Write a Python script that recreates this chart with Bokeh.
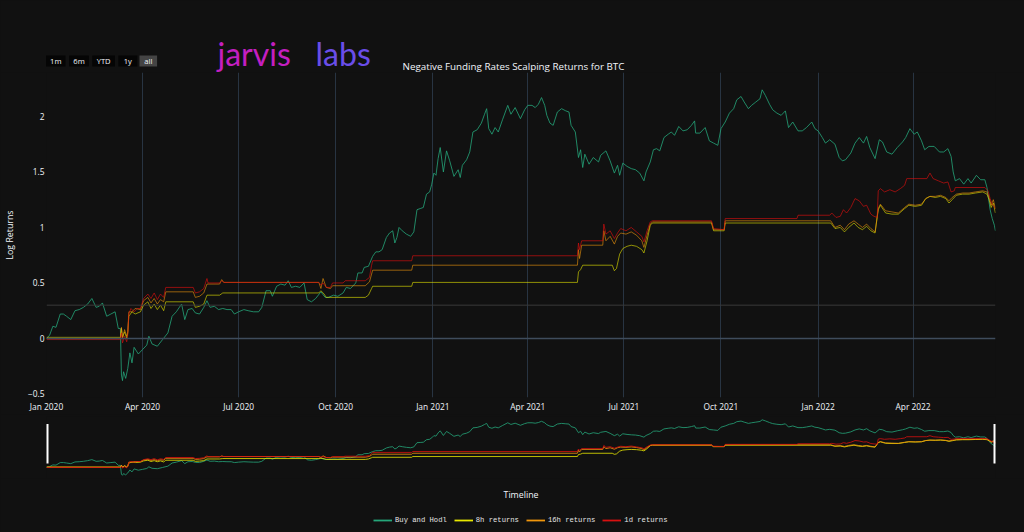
import pandas as pd
from bokeh.plotting import figure
from bokeh.models import Range1d, FixedTicker, Span, Legend, LegendItem
from bokeh.core.properties import value
from bokeh.layouts import column
from bokeh.embed import file_html
from bokeh.resources import INLINE

# ---------------- data (log returns) ----------------
hodl_points = [
    ("2020-01-01", 0.00), ("2020-01-04", 0.03), ("2020-01-07", 0.11), ("2020-01-10", 0.10),
    ("2020-01-14", 0.22), ("2020-01-17", 0.22), ("2020-01-20", 0.20), ("2020-01-24", 0.17),
    ("2020-01-28", 0.25), ("2020-02-01", 0.26), ("2020-02-05", 0.28), ("2020-02-09", 0.31),
    ("2020-02-13", 0.36), ("2020-02-17", 0.28), ("2020-02-20", 0.29), ("2020-02-23", 0.32),
    ("2020-02-27", 0.20), ("2020-03-02", 0.22), ("2020-03-06", 0.24), ("2020-03-09", 0.09),
    ("2020-03-11", 0.09), ("2020-03-12", -0.33), ("2020-03-13", -0.38), ("2020-03-14", -0.30),
    ("2020-03-16", -0.36), ("2020-03-18", -0.27), ("2020-03-20", -0.13), ("2020-03-22", -0.22),
    ("2020-03-24", -0.08), ("2020-03-28", -0.14), ("2020-04-01", -0.10), ("2020-04-05", -0.06),
    ("2020-04-07", 0.02), ("2020-04-10", -0.05), ("2020-04-15", -0.07), ("2020-04-20", -0.01),
    ("2020-04-25", 0.05), ("2020-04-29", 0.20), ("2020-05-03", 0.24), ("2020-05-08", 0.31),
    ("2020-05-11", 0.17), ("2020-05-14", 0.26), ("2020-05-18", 0.27), ("2020-05-21", 0.23),
    ("2020-05-25", 0.22), ("2020-05-29", 0.28), ("2020-06-01", 0.34), ("2020-06-04", 0.28),
    ("2020-06-08", 0.29), ("2020-06-12", 0.26), ("2020-06-16", 0.27), ("2020-06-20", 0.26),
    ("2020-06-24", 0.26), ("2020-06-27", 0.22), ("2020-07-01", 0.24), ("2020-07-06", 0.26),
    ("2020-07-10", 0.25), ("2020-07-15", 0.24), ("2020-07-20", 0.24), ("2020-07-23", 0.28),
    ("2020-07-27", 0.43), ("2020-07-31", 0.43), ("2020-08-02", 0.38), ("2020-08-06", 0.47),
    ("2020-08-10", 0.49), ("2020-08-14", 0.48), ("2020-08-17", 0.52), ("2020-08-20", 0.46),
    ("2020-08-24", 0.47), ("2020-08-28", 0.46), ("2020-09-01", 0.50), ("2020-09-04", 0.35),
    ("2020-09-08", 0.33), ("2020-09-12", 0.36), ("2020-09-17", 0.42), ("2020-09-21", 0.37),
    ("2020-09-24", 0.37), ("2020-09-29", 0.39), ("2020-10-03", 0.38), ("2020-10-08", 0.41),
    ("2020-10-11", 0.46), ("2020-10-15", 0.45), ("2020-10-20", 0.50), ("2020-10-22", 0.59),
    ("2020-10-26", 0.59), ("2020-10-28", 0.64), ("2020-11-01", 0.65), ("2020-11-05", 0.74),
    ("2020-11-08", 0.78), ("2020-11-11", 0.78), ("2020-11-14", 0.80), ("2020-11-18", 0.91),
    ("2020-11-21", 0.95), ("2020-11-24", 0.97), ("2020-11-26", 0.86), ("2020-11-28", 0.91),
    ("2020-11-30", 1.00), ("2020-12-03", 0.97), ("2020-12-07", 0.94), ("2020-12-11", 0.92),
    ("2020-12-14", 0.96), ("2020-12-17", 1.16), ("2020-12-20", 1.17), ("2020-12-23", 1.18),
    ("2020-12-26", 1.30), ("2020-12-29", 1.32), ("2020-12-31", 1.39), ("2021-01-02", 1.49),
    ("2021-01-04", 1.47), ("2021-01-06", 1.62), ("2021-01-08", 1.72), ("2021-01-11", 1.50),
    ("2021-01-14", 1.69), ("2021-01-17", 1.60), ("2021-01-21", 1.46), ("2021-01-25", 1.52),
    ("2021-01-27", 1.45), ("2021-01-29", 1.56), ("2021-02-02", 1.61), ("2021-02-05", 1.68),
    ("2021-02-08", 1.86), ("2021-02-12", 1.88), ("2021-02-16", 1.94), ("2021-02-19", 2.02),
    ("2021-02-21", 2.07), ("2021-02-23", 1.89), ("2021-02-26", 1.84), ("2021-03-01", 1.90),
    ("2021-03-04", 1.86), ("2021-03-08", 1.97), ("2021-03-13", 2.10), ("2021-03-16", 2.02),
    ("2021-03-20", 2.08), ("2021-03-25", 1.98), ("2021-03-29", 2.06), ("2021-04-01", 2.10),
    ("2021-04-05", 2.10), ("2021-04-08", 2.08), ("2021-04-11", 2.11), ("2021-04-14", 2.17),
    ("2021-04-17", 2.10), ("2021-04-19", 2.01), ("2021-04-22", 1.94), ("2021-04-25", 1.92),
    ("2021-04-29", 2.04), ("2021-05-03", 2.07), ("2021-05-07", 2.05), ("2021-05-10", 2.04),
    ("2021-05-12", 1.92), ("2021-05-16", 1.86), ("2021-05-19", 1.63), ("2021-05-21", 1.70),
    ("2021-05-23", 1.54), ("2021-05-25", 1.66), ("2021-05-29", 1.57), ("2021-06-02", 1.63),
    ("2021-06-07", 1.59), ("2021-06-09", 1.65), ("2021-06-14", 1.69), ("2021-06-18", 1.60),
    ("2021-06-22", 1.49), ("2021-06-25", 1.56), ("2021-06-27", 1.47), ("2021-06-30", 1.58),
    ("2021-07-04", 1.55), ("2021-07-08", 1.53), ("2021-07-12", 1.52), ("2021-07-16", 1.49),
    ("2021-07-20", 1.42), ("2021-07-22", 1.50), ("2021-07-26", 1.59), ("2021-07-29", 1.70),
    ("2021-08-01", 1.71), ("2021-08-04", 1.69), ("2021-08-08", 1.81), ("2021-08-12", 1.84),
    ("2021-08-15", 1.86), ("2021-08-18", 1.83), ("2021-08-22", 1.91), ("2021-08-26", 1.87),
    ("2021-08-30", 1.88), ("2021-09-03", 1.92), ("2021-09-06", 1.96), ("2021-09-07", 1.85),
    ("2021-09-11", 1.85), ("2021-09-16", 1.90), ("2021-09-20", 1.78), ("2021-09-24", 1.76),
    ("2021-09-28", 1.74), ("2021-10-01", 1.89), ("2021-10-05", 1.95), ("2021-10-09", 2.03),
    ("2021-10-13", 2.07), ("2021-10-16", 2.15), ("2021-10-20", 2.18), ("2021-10-23", 2.13),
    ("2021-10-27", 2.07), ("2021-10-30", 2.10), ("2021-11-03", 2.13), ("2021-11-07", 2.16),
    ("2021-11-09", 2.24), ("2021-11-12", 2.19), ("2021-11-16", 2.11), ("2021-11-19", 2.06),
    ("2021-11-23", 2.03), ("2021-11-27", 2.01), ("2021-12-01", 2.05), ("2021-12-04", 1.90),
    ("2021-12-08", 1.95), ("2021-12-13", 1.87), ("2021-12-17", 1.87), ("2021-12-21", 1.90),
    ("2021-12-26", 1.95), ("2021-12-29", 1.89), ("2022-01-01", 1.87), ("2022-01-05", 1.81),
    ("2022-01-08", 1.76), ("2022-01-12", 1.79), ("2022-01-17", 1.75), ("2022-01-21", 1.63),
    ("2022-01-24", 1.60), ("2022-01-27", 1.61), ("2022-02-01", 1.67), ("2022-02-05", 1.76),
    ("2022-02-09", 1.81), ("2022-02-13", 1.76), ("2022-02-16", 1.82), ("2022-02-19", 1.72),
    ("2022-02-24", 1.62), ("2022-02-28", 1.79), ("2022-03-03", 1.77), ("2022-03-07", 1.68),
    ("2022-03-12", 1.66), ("2022-03-17", 1.72), ("2022-03-22", 1.77), ("2022-03-25", 1.81),
    ("2022-03-29", 1.89), ("2022-04-02", 1.84), ("2022-04-05", 1.86), ("2022-04-09", 1.78),
    ("2022-04-12", 1.70), ("2022-04-16", 1.73), ("2022-04-21", 1.73), ("2022-04-26", 1.68),
    ("2022-04-30", 1.68), ("2022-05-04", 1.71), ("2022-05-07", 1.64), ("2022-05-09", 1.50),
    ("2022-05-11", 1.42), ("2022-05-15", 1.44), ("2022-05-19", 1.39), ("2022-05-23", 1.44),
    ("2022-05-26", 1.40), ("2022-05-31", 1.47), ("2022-06-04", 1.43), ("2022-06-08", 1.43),
    ("2022-06-10", 1.36), ("2022-06-13", 1.16), ("2022-06-15", 1.08), ("2022-06-17", 1.02),
    ("2022-06-18", 0.97),
]

ret_8h_points = [
    ("2020-01-01", 0.01), ("2020-03-11", 0.01), ("2020-03-12", 0.09), ("2020-03-13", 0.01),
    ("2020-03-15", 0.06), ("2020-03-17", 0.00), ("2020-03-18", 0.05), ("2020-03-19", 0.20),
    ("2020-03-22", 0.24), ("2020-03-25", 0.22), ("2020-03-30", 0.24), ("2020-04-02", 0.30),
    ("2020-04-06", 0.33), ("2020-04-09", 0.27), ("2020-04-12", 0.31), ("2020-04-15", 0.26),
    ("2020-04-18", 0.30), ("2020-04-21", 0.25), ("2020-04-23", 0.33), ("2020-05-19", 0.33),
    ("2020-05-21", 0.28), ("2020-05-25", 0.29), ("2020-05-29", 0.31), ("2020-06-01", 0.39),
    ("2020-06-13", 0.39), ("2020-06-16", 0.41), ("2020-09-15", 0.41), ("2020-09-17", 0.43),
    ("2020-09-20", 0.40), ("2020-09-22", 0.37), ("2020-10-29", 0.37), ("2020-11-01", 0.39),
    ("2020-11-04", 0.45), ("2020-11-05", 0.47), ("2020-12-12", 0.47), ("2020-12-13", 0.505),
    ("2021-05-18", 0.505), ("2021-05-19", 0.60), ("2021-05-21", 0.62), ("2021-05-23", 0.66),
    ("2021-06-20", 0.66), ("2021-06-22", 0.61), ("2021-06-24", 0.63), ("2021-06-27", 0.76),
    ("2021-06-30", 0.81), ("2021-07-04", 0.83), ("2021-07-08", 0.84), ("2021-07-13", 0.83),
    ("2021-07-18", 0.80), ("2021-07-20", 0.77), ("2021-07-23", 0.88), ("2021-07-26", 1.02),
    ("2021-07-28", 1.04), ("2021-09-22", 1.04), ("2021-09-24", 0.97), ("2021-10-04", 0.97),
    ("2021-10-05", 1.04), ("2022-01-13", 1.04), ("2022-01-17", 0.99), ("2022-01-22", 1.00),
    ("2022-01-26", 0.96), ("2022-01-30", 1.00), ("2022-02-04", 1.04), ("2022-02-08", 1.00),
    ("2022-02-12", 0.98), ("2022-02-16", 1.01), ("2022-02-20", 0.97), ("2022-02-24", 0.95),
    ("2022-02-27", 1.16), ("2022-03-01", 1.20), ("2022-03-06", 1.13), ("2022-03-12", 1.12),
    ("2022-03-18", 1.12), ("2022-03-24", 1.17), ("2022-03-28", 1.20), ("2022-04-03", 1.19),
    ("2022-04-09", 1.20), ("2022-04-13", 1.26), ("2022-04-17", 1.28), ("2022-04-22", 1.27),
    ("2022-04-27", 1.28), ("2022-05-02", 1.26), ("2022-05-05", 1.22), ("2022-05-08", 1.25),
    ("2022-05-12", 1.29), ("2022-05-18", 1.30), ("2022-05-24", 1.30), ("2022-05-30", 1.31),
    ("2022-06-06", 1.32), ("2022-06-10", 1.30), ("2022-06-12", 1.25), ("2022-06-14", 1.18),
    ("2022-06-16", 1.22), ("2022-06-18", 1.13),
]

ret_16h_points = [
    ("2020-01-01", 0.00), ("2020-03-11", 0.00), ("2020-03-12", 0.10), ("2020-03-13", 0.00),
    ("2020-03-15", 0.08), ("2020-03-17", 0.02), ("2020-03-18", 0.06), ("2020-03-19", 0.24),
    ("2020-03-22", 0.24), ("2020-03-25", 0.27), ("2020-03-30", 0.26), ("2020-04-02", 0.34),
    ("2020-04-06", 0.37), ("2020-04-09", 0.32), ("2020-04-12", 0.36), ("2020-04-15", 0.31),
    ("2020-04-18", 0.35), ("2020-04-21", 0.33), ("2020-04-23", 0.42), ("2020-05-19", 0.42),
    ("2020-05-21", 0.37), ("2020-05-25", 0.38), ("2020-05-29", 0.41), ("2020-06-01", 0.49),
    ("2020-06-13", 0.49), ("2020-06-15", 0.53), ("2020-06-17", 0.505), ("2020-09-15", 0.505),
    ("2020-09-17", 0.45), ("2020-09-19", 0.54), ("2020-09-22", 0.46), ("2020-09-26", 0.45),
    ("2020-09-28", 0.475), ("2020-10-29", 0.475), ("2020-11-02", 0.51), ("2020-11-04", 0.58),
    ("2020-11-05", 0.615), ("2020-12-12", 0.615), ("2020-12-13", 0.66), ("2021-05-18", 0.66),
    ("2021-05-19", 0.80), ("2021-05-20", 0.72), ("2021-05-22", 0.84), ("2021-06-11", 0.84),
    ("2021-06-12", 0.97), ("2021-06-14", 0.88), ("2021-06-18", 0.92), ("2021-06-22", 0.85),
    ("2021-06-25", 0.92), ("2021-06-28", 0.95), ("2021-07-03", 0.94), ("2021-07-08", 0.96),
    ("2021-07-13", 0.93), ("2021-07-18", 0.88), ("2021-07-20", 0.82), ("2021-07-23", 0.93),
    ("2021-07-26", 1.03), ("2021-07-28", 1.05), ("2021-09-22", 1.05), ("2021-09-24", 0.98),
    ("2021-10-04", 0.98), ("2021-10-05", 1.06), ("2022-01-13", 1.06), ("2022-01-17", 1.00),
    ("2022-01-22", 1.02), ("2022-01-26", 0.98), ("2022-01-30", 1.03), ("2022-02-04", 1.06),
    ("2022-02-08", 1.03), ("2022-02-12", 1.00), ("2022-02-16", 1.03), ("2022-02-20", 0.99),
    ("2022-02-24", 0.96), ("2022-02-27", 1.17), ("2022-03-01", 1.21), ("2022-03-06", 1.15),
    ("2022-03-12", 1.14), ("2022-03-18", 1.13), ("2022-03-24", 1.18), ("2022-03-28", 1.21),
    ("2022-04-03", 1.20), ("2022-04-09", 1.21), ("2022-04-13", 1.26), ("2022-04-17", 1.28),
    ("2022-04-22", 1.28), ("2022-04-27", 1.29), ("2022-05-02", 1.27), ("2022-05-05", 1.24),
    ("2022-05-08", 1.27), ("2022-05-12", 1.30), ("2022-05-18", 1.31), ("2022-05-24", 1.31),
    ("2022-05-30", 1.32), ("2022-06-06", 1.33), ("2022-06-10", 1.32), ("2022-06-12", 1.27),
    ("2022-06-14", 1.20), ("2022-06-16", 1.25), ("2022-06-18", 1.17),
]

ret_1d_points = [
    ("2020-01-01", -0.01), ("2020-03-11", -0.01), ("2020-03-12", 0.05), ("2020-03-13", -0.04),
    ("2020-03-15", 0.02), ("2020-03-17", -0.03), ("2020-03-18", 0.03), ("2020-03-19", 0.22),
    ("2020-03-21", 0.27), ("2020-03-24", 0.24), ("2020-03-27", 0.27), ("2020-03-30", 0.27),
    ("2020-04-02", 0.36), ("2020-04-06", 0.40), ("2020-04-09", 0.36), ("2020-04-12", 0.41),
    ("2020-04-15", 0.35), ("2020-04-18", 0.40), ("2020-04-21", 0.37), ("2020-04-23", 0.46),
    ("2020-05-19", 0.46), ("2020-05-21", 0.41), ("2020-05-25", 0.42), ("2020-05-29", 0.45),
    ("2020-06-01", 0.54), ("2020-06-02", 0.50), ("2020-06-13", 0.50), ("2020-06-15", 0.52),
    ("2020-06-17", 0.505), ("2020-09-15", 0.505), ("2020-09-17", 0.48), ("2020-09-19", 0.50),
    ("2020-09-22", 0.46), ("2020-09-26", 0.46), ("2020-09-28", 0.50), ("2020-10-08", 0.50),
    ("2020-10-10", 0.52), ("2020-10-29", 0.52), ("2020-11-02", 0.55), ("2020-11-04", 0.66),
    ("2020-11-05", 0.70), ("2020-12-12", 0.70), ("2020-12-13", 0.745), ("2021-05-18", 0.745),
    ("2021-05-19", 0.86), ("2021-05-20", 0.80), ("2021-05-22", 0.88), ("2021-06-11", 0.88),
    ("2021-06-12", 1.03), ("2021-06-14", 0.94), ("2021-06-18", 0.97), ("2021-06-22", 0.90),
    ("2021-06-25", 0.95), ("2021-06-28", 0.99), ("2021-07-03", 0.97), ("2021-07-08", 1.00),
    ("2021-07-13", 0.96), ("2021-07-18", 0.92), ("2021-07-20", 0.87), ("2021-07-23", 0.97),
    ("2021-07-26", 1.05), ("2021-07-28", 1.06), ("2021-09-22", 1.06), ("2021-09-24", 0.99),
    ("2021-10-04", 0.98), ("2021-10-05", 1.08), ("2021-12-12", 1.08), ("2021-12-13", 1.11),
    ("2022-01-12", 1.11), ("2022-01-14", 1.13), ("2022-01-18", 1.09), ("2022-01-22", 1.10),
    ("2022-01-25", 1.16), ("2022-01-28", 1.13), ("2022-02-01", 1.18), ("2022-02-05", 1.26),
    ("2022-02-09", 1.24), ("2022-02-13", 1.19), ("2022-02-16", 1.20), ("2022-02-20", 1.12),
    ("2022-02-23", 1.10), ("2022-02-26", 1.09), ("2022-02-27", 1.33), ("2022-03-01", 1.35),
    ("2022-03-05", 1.32), ("2022-03-10", 1.34), ("2022-03-15", 1.32), ("2022-03-20", 1.35),
    ("2022-03-24", 1.38), ("2022-03-26", 1.44), ("2022-04-14", 1.44), ("2022-04-17", 1.49),
    ("2022-04-20", 1.44), ("2022-04-25", 1.42), ("2022-04-30", 1.40), ("2022-05-04", 1.41),
    ("2022-05-07", 1.32), ("2022-05-10", 1.33), ("2022-05-11", 1.36), ("2022-06-08", 1.36),
    ("2022-06-11", 1.33), ("2022-06-13", 1.26), ("2022-06-15", 1.21), ("2022-06-18", 1.17),
]

series_names = ["Buy and Hodl", "8h returns", "16h returns", "1d returns"]
series_colors = ["#25a67a", "#e8e800", "#f0960c", "#d81010"]

x_tick_dates = ["2020-01-01", "2020-04-01", "2020-07-01", "2020-10-01", "2021-01-01",
                "2021-04-01", "2021-07-01", "2021-10-01", "2022-01-01", "2022-04-01"]
x_tick_labels = ["Jan 2020", "Apr 2020", "Jul 2020", "Oct 2020", "Jan 2021",
                 "Apr 2021", "Jul 2021", "Oct 2021", "Jan 2022", "Apr 2022"]
y_ticks = [-0.5, 0, 0.5, 1, 1.5, 2]
y_tick_labels = ["\u22120.5", "0", "0.5", "1", "1.5", "2"]

range_buttons = ["1m", "6m", "YTD", "1y", "all"]
active_button = "all"
logo_words = ["jarvis", "labs"]
logo_colors = ["#c41fc0", "#6a4de9"]

title_text = "Negative Funding Rates Scalping Returns for BTC"
y_title = "Log Returns"
x_title = "Timeline"

# ---------------- styling / layout (page pixels) ----------------
BG = "#111111"
FONT = "Open Sans"
TXT = "#f2f5fa"
GRID = "#283442"
W = 1024

button_left = [45.5, 68.6, 91.7, 117.8, 139.0]
button_right = [65.0, 88.4, 114.5, 136.8, 156.6]
logo_left = [217, 315]


def ms(d):
    return pd.Timestamp(d).value / 1e6


x_start = ms("2020-01-01")
x_end = ms("2022-06-18 02:00")
y_lo, y_hi = -0.532, 2.396

all_series = [hodl_points, ret_8h_points, ret_16h_points, ret_1d_points]


def xy(points):
    return pd.to_datetime([d for d, _ in points]), [v for _, v in points]


def blank(fig):
    fig.xgrid.visible = False
    fig.ygrid.visible = False


# ---------------- header: logo, buttons, title ----------------
hdr = figure(width=W, height=72, title=None, x_range=Range1d(0, W), y_range=Range1d(72, 0),
             x_axis_location=None, y_axis_location=None, min_border=0, frame_align=False,
             output_backend="svg", toolbar_location=None,
             background_fill_color=BG, border_fill_color=BG, outline_line_color=None)
blank(hdr)
hdr.text(x=logo_left, y=[52.5, 52.5], text=logo_words, text_color=logo_colors,
         text_font=value("Lato"), text_font_size="32px",
         text_align="left", text_baseline="middle")
hdr.quad(left=button_left, right=button_right, top=[55] * 5, bottom=[66] * 5,
         fill_color=["#444444" if b == active_button else "#050505" for b in range_buttons],
         line_color=None)
hdr.text(x=[(l + r) / 2 for l, r in zip(button_left, button_right)], y=[60.7] * 5,
         text=range_buttons, text_color=TXT, text_font=value(FONT), text_font_size="7.6px",
         text_align="center", text_baseline="middle")
hdr.text(x=[402], y=[66], text=[title_text], text_color=TXT, text_font=value(FONT),
         text_font_size="9.8px", text_align="left", text_baseline="middle")

# ---------------- main figure ----------------
p = figure(width=W, height=342, x_axis_type="datetime", title=None,
           x_range=Range1d(x_start, x_end), y_range=Range1d(y_lo, y_hi),
           output_backend="svg", toolbar_location=None,
           min_border_left=46, min_border_right=29, min_border_top=0, min_border_bottom=17,
           background_fill_color=BG, border_fill_color=BG, outline_line_color=None)

x_ticks = [ms(d) for d in x_tick_dates]
p.xaxis.ticker = FixedTicker(ticks=x_ticks)
p.xaxis.major_label_overrides = dict(zip(x_ticks, x_tick_labels))
p.xgrid.ticker = FixedTicker(ticks=x_ticks)
p.xgrid.grid_line_color = GRID
p.xgrid.grid_line_width = 1
p.ygrid.visible = False

p.yaxis.ticker = FixedTicker(ticks=y_ticks)
p.yaxis.major_label_overrides = dict(zip(y_ticks, y_tick_labels))
p.yaxis.axis_label = y_title
p.yaxis.axis_label_standoff = 9
p.yaxis.axis_label_text_font = FONT
p.yaxis.axis_label_text_font_size = "8.8px"
p.yaxis.axis_label_text_font_style = "normal"
p.yaxis.axis_label_text_color = TXT

for ax in (p.xaxis[0], p.yaxis[0]):
    ax.axis_line_color = None
    ax.major_tick_line_color = None
    ax.minor_tick_line_color = None
    ax.major_tick_out = 0
    ax.major_tick_in = 0
    ax.minor_tick_out = 0
    ax.minor_tick_in = 0
    ax.major_label_text_font = FONT
    ax.major_label_text_font_size = "8.4px"
    ax.major_label_text_color = TXT
p.xaxis.major_label_standoff = 3
p.yaxis.major_label_standoff = 2

p.add_layout(Span(location=0.3, dimension="width", line_color="#3a3a3a", line_width=1))
p.add_layout(Span(location=0, dimension="width", line_color="#3f4c5c", line_width=1.5))

for pts, col, alpha in zip(all_series, series_colors, [0.8, 0.6, 0.6, 0.65]):
    xs, ys = xy(pts)
    p.line(xs, ys, line_color=col, line_width=1, line_alpha=alpha)

# ---------------- range slider ----------------
p2 = figure(width=W, height=64, x_axis_type="datetime", title=None,
            x_range=Range1d(x_start, x_end), y_range=Range1d(y_lo, y_hi),
            x_axis_location=None, y_axis_location=None,
            output_backend="svg", toolbar_location=None,
            min_border_left=46, min_border_right=29, min_border_top=2, min_border_bottom=0,
            background_fill_color=BG, border_fill_color=BG, outline_line_color=None)
blank(p2)
for pts, col in zip(all_series, series_colors):
    xs, ys = xy(pts)
    p2.line(xs, ys, line_color=col, line_width=1, line_alpha=0.8)

h_lo = y_lo + 0.242 * (y_hi - y_lo)
h_hi = y_lo + 0.88 * (y_hi - y_lo)
p2.segment(x0=[x_start, x_end], y0=[h_lo, h_lo], x1=[x_start, x_end], y1=[h_hi, h_hi],
           line_color="white", line_width=4)

# ---------------- footer: axis title + legend ----------------
ftr = figure(width=W, height=54, title=None, x_range=Range1d(0, W), y_range=Range1d(532, 478),
             x_axis_location=None, y_axis_location=None, min_border=0, frame_align=False,
             output_backend="svg", toolbar_location=None,
             background_fill_color=BG, border_fill_color=BG, outline_line_color=None)
blank(ftr)
ftr.text(x=[520.5], y=[494], text=[x_title], text_color=TXT, text_font=value(FONT),
         text_font_size="8.8px", text_align="center", text_baseline="middle")
# legend renderers: the series themselves, which fall outside this panel's ranges
legend_renderers = []
for pts, col in zip(all_series, series_colors):
    xs, ys = xy(pts)
    legend_renderers.append(ftr.line(xs, ys, line_color=col, line_width=1.8))
legend = Legend(items=[LegendItem(label=n, renderers=[r])
                       for n, r in zip(series_names, legend_renderers)],
                location=(373, 7), orientation="horizontal",
                label_text_font="Liberation Mono", label_text_font_size="7.2px",
                label_text_color="#e6e6e6", glyph_width=19, glyph_height=10, label_height=10,
                label_standoff=3, spacing=7, padding=0, margin=0,
                background_fill_alpha=0, border_line_color=None)
ftr.add_layout(legend)

layout = column(hdr, p, p2, ftr, spacing=0)
html = file_html(layout, INLINE, title="Negative Funding Rates Scalping Returns for BTC")
html = html.replace("</head>", "<style>html, body {background-color: #111111;}</style></head>", 1)
open("out.html", "w").write(html)
